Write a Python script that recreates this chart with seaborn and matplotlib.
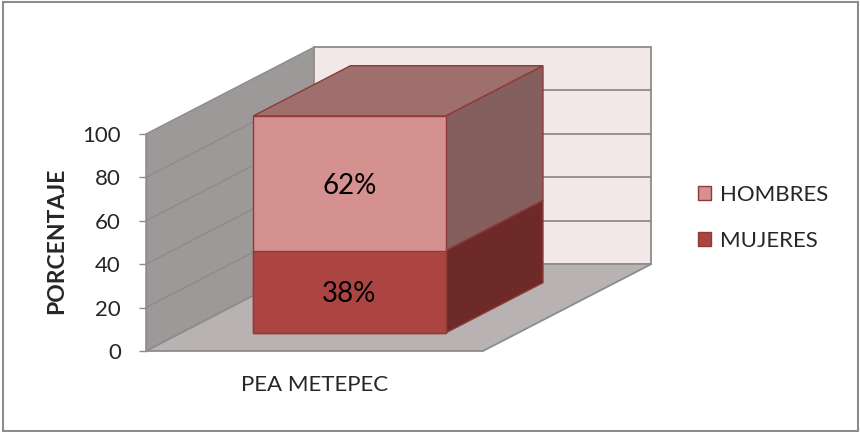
import matplotlib
matplotlib.use("Agg")
import matplotlib.pyplot as plt
import matplotlib.patches as mpatches
from matplotlib.transforms import Affine2D
import seaborn as sns
import pandas as pd

# --- data -------------------------------------------------------------
categorias = ["PEA METEPEC"]
series = ["HOMBRES", "MUJERES"]
hombres = [62]
mujeres = [38]
yticks = [0, 20, 40, 60, 80, 100]

# --- colours ----------------------------------------------------------
C_HOM = "#d49190"
C_HOM_SIDE = "#855f5d"
C_HOM_TOP = "#9e6f6d"
C_MUJ = "#ac4542"
C_MUJ_SIDE = "#6d2a29"
C_EDGE_BAR = "#8e3a38"
C_WALL_L = "#9d9999"
C_WALL_B = "#f3e8e8"
C_FLOOR = "#b8b2b2"
C_GRID = "#8c8c8c"

sns.set_style("white")
plt.rcParams["font.family"] = ["Lato", "DejaVu Sans"]

df = pd.DataFrame({
    "categoria": categorias,
    "total": [h + m for h, m in zip(hombres, mujeres)],
    "MUJERES": mujeres,
})

fig = plt.figure(figsize=(8.6, 4.32), dpi=100)
ax = fig.add_axes([0, 0, 1, 1])
ax.patch.set_alpha(0)

# oblique depth vector (full depth of the plot box) in data units
DX, DY = 0.50, 40.1
Z0, Z1 = 0.207, 0.785   # front and back planes of the bar
BAR_W = 0.571

# --- walls and floor --------------------------------------------------
x0, x1 = -0.5, 0.5
left_wall = mpatches.Polygon([(x0, 0), (x0, 100), (x0 + DX, 100 + DY), (x0 + DX, DY)],
                             closed=True, facecolor=C_WALL_L, edgecolor=C_GRID, lw=1.0, zorder=0.5)
back_wall = mpatches.Polygon([(x0 + DX, DY), (x0 + DX, 100 + DY), (x1 + DX, 100 + DY), (x1 + DX, DY)],
                             closed=True, facecolor=C_WALL_B, edgecolor=C_GRID, lw=1.3, zorder=0.5)
floor = mpatches.Polygon([(x0, 0), (x1, 0), (x1 + DX, DY), (x0 + DX, DY)],
                         closed=True, facecolor=C_FLOOR, edgecolor=C_GRID, lw=1.3, zorder=0.6)
for p in (left_wall, back_wall, floor):
    ax.add_patch(p)
for v in yticks[1:-1]:
    ax.plot([x0, x0 + DX], [v, v + DY], color=C_GRID, lw=1.0, zorder=0.7)
    ax.plot([x0 + DX, x1 + DX], [v + DY, v + DY], color=C_GRID, lw=1.3, zorder=0.7)

# --- stacked bar (front faces) ----------------------------------------
sns.barplot(data=df, x="categoria", y="total", color=C_HOM, saturation=1,
            width=BAR_W, edgecolor=C_EDGE_BAR, linewidth=1.0, ax=ax, zorder=3)
sns.barplot(data=df, x="categoria", y="MUJERES", color=C_MUJ, saturation=1,
            width=BAR_W, edgecolor=C_EDGE_BAR, linewidth=1.0, ax=ax, zorder=3)

shift = Affine2D().translate(Z0 * DX, Z0 * DY)
bars = list(ax.patches[-2:])
dd_x, dd_y = (Z1 - Z0) * DX, (Z1 - Z0) * DY
ox, oy = Z0 * DX, Z0 * DY
for bar in bars:
    bar.set_transform(shift + ax.transData)

hom_bar, muj_bar = bars
segs = [
    (muj_bar, 0, mujeres[0], C_MUJ_SIDE),
    (hom_bar, mujeres[0], mujeres[0] + hombres[0], C_HOM_SIDE),
]
for bar, y0, y1, col in segs:
    xr = bar.get_x() + bar.get_width() + ox
    side = mpatches.Polygon([(xr, y0 + oy), (xr, y1 + oy), (xr + dd_x, y1 + oy + dd_y), (xr + dd_x, y0 + oy + dd_y)],
                            closed=True, facecolor=col, edgecolor=C_EDGE_BAR, lw=1.0, zorder=2.5)
    ax.add_patch(side)

top_y = mujeres[0] + hombres[0] + oy
xl = hom_bar.get_x() + ox
xr = xl + hom_bar.get_width()
top = mpatches.Polygon([(xl, top_y), (xr, top_y), (xr + dd_x, top_y + dd_y), (xl + dd_x, top_y + dd_y)],
                       closed=True, facecolor=C_HOM_TOP, edgecolor=C_EDGE_BAR, lw=1.0, zorder=2.5)
ax.add_patch(top)

# value labels on the front faces
xc = hom_bar.get_x() + hom_bar.get_width() / 2 + ox
for y0, val in ((0, mujeres[0]), (mujeres[0], hombres[0])):
    ax.text(xc, y0 + val / 2 + oy, f"{val}%", ha="center", va="center_baseline",
            fontsize=20, color="black", zorder=4)

# --- axes, ticks, labels ----------------------------------------------
ax.set_xlim(-0.9332, 1.6187)
ax.set_ylim(-37.33, 161.75)
for s in ("top", "right"):
    ax.spines[s].set_visible(False)
ax.spines["left"].set_position(("data", x0))
ax.spines["left"].set_bounds(0, 100)
ax.spines["left"].set_color(C_GRID)
ax.spines["left"].set_linewidth(1.0)
ax.spines["bottom"].set_position(("data", 0))
ax.spines["bottom"].set_visible(False)
ax.set_yticks(yticks)
ax.tick_params(axis="y", length=5, width=1, color=C_GRID, labelsize=16, pad=13, left=True)
ax.tick_params(axis="x", length=0, labelsize=16, pad=17)
ax.set_xlabel("")
ax.set_ylabel("PORCENTAJE", fontsize=16.5, fontweight="bold")
ax.yaxis.set_label_coords(67 / 860, 1 - 241 / 432)

handles = [mpatches.Patch(facecolor=C_HOM, edgecolor=C_EDGE_BAR, lw=1.0),
           mpatches.Patch(facecolor=C_MUJ, edgecolor=C_EDGE_BAR, lw=1.0)]
ax.legend(handles, series, loc="center left", bbox_to_anchor=(698 / 860, 1 - 218 / 432),
          frameon=False, fontsize=16, handlelength=0.6, handleheight=0.6,
          handletextpad=0.4, labelspacing=1.15, borderpad=0, borderaxespad=0)

fig.add_artist(mpatches.Rectangle((3 / 860, 1 / 432), 855 / 860, 429 / 432, transform=fig.transFigure,
                                  fill=False, edgecolor=C_GRID, lw=1.5))

fig.savefig("out.png", dpi=100)
